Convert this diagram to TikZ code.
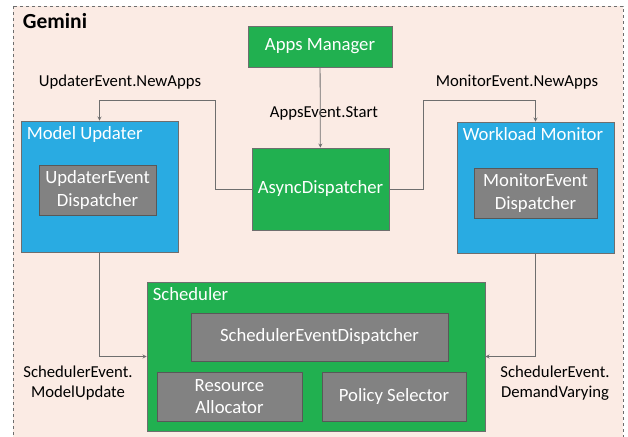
\documentclass[tikz,border=0pt]{standalone}
\usepackage{fontspec}
\setmainfont{Carlito}
\usepackage{xcolor}
\usepackage{tikz}
\usetikzlibrary{arrows,calc,positioning}
\definecolor{gemGreen}{RGB}{33,176,80}
\definecolor{gemBlue}{RGB}{41,171,226}
\definecolor{gemGray}{RGB}{130,130,130}
\definecolor{gemPeach}{RGB}{251,235,228}
\definecolor{gemLine}{RGB}{110,110,110}
\tikzset{Box/.style={rectangle,draw=gemLine,line width=0.8pt,text=white,font=\fontsize{18.7}{22.5}\selectfont,align=center,inner sep=0pt},
  GBox/.style={Box,fill=gemGreen},
  BBox/.style={Box,fill=gemBlue},
  DBox/.style={Box,fill=gemGray,draw=gemLine!80!black},
  Ttl/.style={text=white,font=\fontsize{18.7}{22.5}\selectfont,anchor=north west,inner xsep=6pt,inner ysep=5.5pt},
  Lbl/.style={font=\fontsize{16.7}{20}\selectfont,align=center,inner sep=0pt}}

\begin{document}
\begin{tikzpicture}[x=1pt,y=-1pt]
    \useasboundingbox (0,0) rectangle (628,436);
    \draw[dashed,gemLine,fill=gemPeach,line width=0.8pt] (13,6) rectangle (623,460);
    \node[font=\fontsize{21.5}{25}\selectfont\bfseries] (gem) at (55,21) {Gemini};
    \node[GBox,minimum width=144,minimum height=41] (am) at (320,46.5) {Apps Manager};
    \node[GBox,minimum width=137,minimum height=82] (ad) at (320.5,189) {AsyncDispatcher};
    \node[BBox,minimum width=157,minimum height=131] (mu) at (99.5,186.5) {};
    \node[Ttl] (mut) at (mu.north west) {Model Updater};
    \node[DBox,minimum width=117,minimum height=50] (ued) at (97.5,190) {UpdaterEvent\\Dispatcher};
    \node[BBox,minimum width=157,minimum height=131] (wm) at (535.5,187.5) {};
    \node[Ttl] (wmt) at (wm.north west) {Workload Monitor};
    \node[DBox,minimum width=123,minimum height=50] (med) at (535.5,193) {MonitorEvent\\Dispatcher};
    \node[GBox,minimum width=338,minimum height=149] (sch) at (316,356.5) {};
    \node[Ttl] (scht) at (sch.north west) {Scheduler};
    \node[DBox,minimum width=257,minimum height=48] (sed) at (319.5,337) {SchedulerEventDispatcher};
    \node[DBox,minimum width=145,minimum height=49] (ra) at (229.5,396.5) {Resource\\Allocator};
    \node[DBox,minimum width=144,minimum height=49] (ps) at (394,396.5) {Policy Selector};
    \node[Lbl] (lupd) at (120,82) {UpdaterEvent.NewApps};
    \node[Lbl] (lmon) at (517,82) {MonitorEvent.NewApps};
    \node[Lbl] (lapp) at (324,113) {AppsEvent.Start};
    \node[Lbl] (lmod) at (78,383) {SchedulerEvent.\\ModelUpdate};
    \node[Lbl] (ldem) at (555,383) {SchedulerEvent.\\DemandVarying};
    \coordinate (kL) at (215,100);
    \coordinate (kR) at (423,100);
    \begin{scope}[->,>=stealth,gemLine,line width=0.8pt]
      \draw (am) -- (ad);
      \draw (ad.west) -| (kL) -| (mu.north);
      \draw (ad.east) -| (kR) -| (wm.north);
      \draw (mu.south) |- (sch.west);
      \draw (wm.south) |- (sch.east);
    \end{scope}
  \end{tikzpicture}
\end{document}
